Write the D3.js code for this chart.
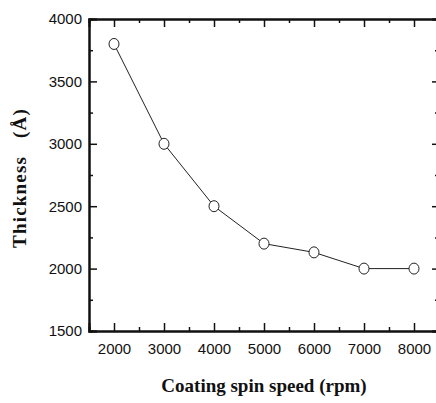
<!DOCTYPE html>
<html>
<head>
<meta charset="utf-8">
<script src="https://cdn.jsdelivr.net/npm/d3@7"></script>
<style>
  body { margin: 0; background: #fff; }
  svg { display: block; }
  .tick text { font-family: "Liberation Sans", Arial, sans-serif; font-size: 15px; fill: #111; }
  .title { font-family: "Liberation Serif", "Times New Roman", serif; font-weight: bold; font-size: 19px; fill: #111; white-space: pre; }
</style>
</head>
<body>
<svg width="436" height="403"></svg>
<script>
var speeds = [2000, 3000, 4000, 5000, 6000, 7000, 8000];
var thickness = [3800, 3000, 2500, 2200, 2130, 2000, 2000];
var xTicks = [2000, 3000, 4000, 5000, 6000, 7000, 8000];
var yTicks = [1500, 2000, 2500, 3000, 3500, 4000];

var margin = { top: 19, right: -3, bottom: 72, left: 89 },
  svg_dx = 436,
  svg_dy = 403;

var x = d3.scaleLinear().domain([1500, 8500]).range([margin.left, svg_dx - margin.right]),
  y = d3.scaleLinear().domain([1500, 4000]).range([svg_dy - margin.bottom, margin.top]);

var svg = d3.select("svg");
var minorX = d3.range(2500, 8500, 1000),
  minorY = d3.range(1750, 4000, 500);

// bottom axis with labels
var axis_x = d3.axisBottom(x).tickValues(xTicks).tickSize(-8).tickPadding(12).tickFormat(d3.format("d"));
svg.append("g")
  .attr("transform", "translate(0," + y(1500) + ")")
  .call(axis_x);

// left axis with labels
var axis_y = d3.axisLeft(y).tickValues(yTicks).tickSize(-8).tickPadding(7).tickFormat(d3.format("d"));
svg.append("g")
  .attr("transform", "translate(" + x(1500) + ",0)")
  .call(axis_y);

// mirrored top/right axes, no labels
svg.append("g")
  .attr("transform", "translate(0," + y(4000) + ")")
  .call(d3.axisTop(x).tickValues(xTicks).tickSize(-8).tickFormat(""));
svg.append("g")
  .attr("transform", "translate(" + x(8500) + ",0)")
  .call(d3.axisRight(y).tickValues(yTicks).tickSize(-7).tickFormat(""));

// minor ticks
svg.append("g").attr("transform", "translate(0," + y(1500) + ")")
  .call(d3.axisBottom(x).tickValues(minorX).tickSize(-4).tickFormat(""));
svg.append("g").attr("transform", "translate(0," + y(4000) + ")")
  .call(d3.axisTop(x).tickValues(minorX).tickSize(-4).tickFormat(""));
svg.append("g").attr("transform", "translate(" + x(1500) + ",0)")
  .call(d3.axisLeft(y).tickValues(minorY).tickSize(-4).tickFormat(""));
svg.append("g").attr("transform", "translate(" + x(8500) + ",0)")
  .call(d3.axisRight(y).tickValues(minorY).tickSize(-4).tickFormat(""));

svg.selectAll(".domain").attr("stroke", "#111").attr("stroke-width", 2);
svg.selectAll(".tick line").attr("stroke", "#111").attr("stroke-width", 1.5);

var pts = speeds.map((s, i) => ({ s: s, t: thickness[i] }));

svg.append("path")
  .datum(pts)
  .attr("fill", "none")
  .attr("stroke", "#222")
  .attr("stroke-width", 1)
  .attr("d", d3.line().x(d => x(d.s)).y(d => y(d.t)));

svg.append("g")
  .selectAll("ellipse")
  .data(pts)
  .enter()
  .append("ellipse")
  .attr("cx", d => x(d.s))
  .attr("cy", d => y(d.t))
  .attr("rx", 5)
  .attr("ry", 5.5)
  .attr("fill", "#fff")
  .attr("stroke", "#222")
  .attr("stroke-width", 1);

svg.append("text")
  .attr("class", "title")
  .attr("text-anchor", "middle")
  .attr("x", 264)
  .attr("y", 392)
  .text("Coating spin speed (rpm)");

svg.append("text")
  .attr("class", "title")
  .attr("text-anchor", "middle")
  .attr("letter-spacing", 1.2)
  .attr("transform", "translate(26,178) rotate(-90)")
  .text("Thickness   (Å)");
</script>
</body>
</html>
